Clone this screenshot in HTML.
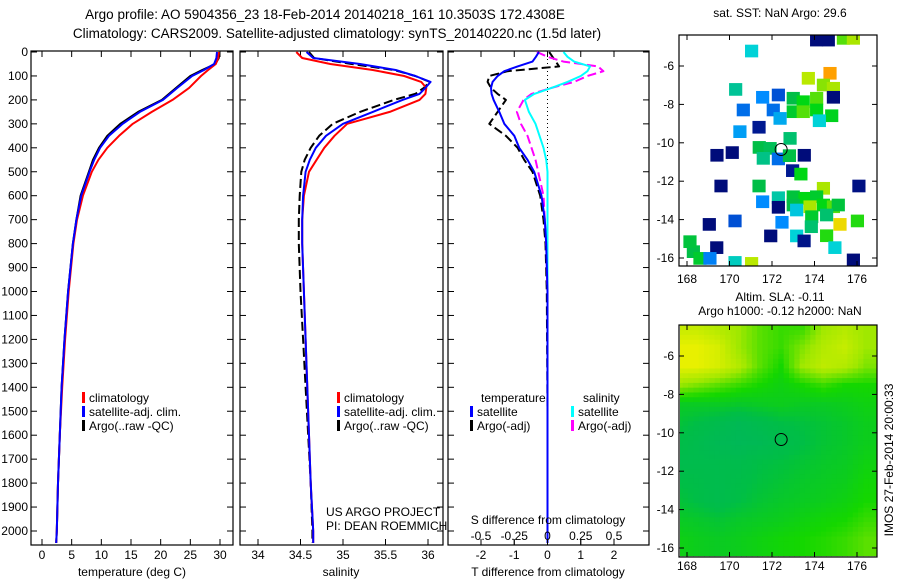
<!DOCTYPE html>
<html><head><meta charset="utf-8">
<style>
body{margin:0;background:#fff;}
svg{display:block;font-family:"Liberation Sans",sans-serif;}
</style></head>
<body>
<svg id="fig" width="900" height="580" viewBox="0 0 900 580" xmlns="http://www.w3.org/2000/svg">
<text x="325" y="19" font-size="13.5" text-anchor="middle">Argo profile: AO 5904356_23 18-Feb-2014 20140218_161 10.3503S 172.4308E</text>
<text x="337" y="38" font-size="13.5" text-anchor="middle">Climatology: CARS2009. Satellite-adjusted climatology: synTS_20140220.nc (1.5d later)</text>
<text x="780" y="17" font-size="12" text-anchor="middle">sat. SST: NaN Argo: 29.6</text>
<text x="780" y="301" font-size="12" text-anchor="middle">Altim. SLA: -0.11</text>
<text x="780" y="315" font-size="12" text-anchor="middle">Argo h1000: -0.12 h2000: NaN</text>
<text transform="translate(893,460) rotate(-90)" font-size="12" text-anchor="middle">IMOS 27-Feb-2014 20:00:33</text>
<g id="layer"></g>
</svg>
<script>
// ---------- data ----------
const depthT = [0,25,50,75,100,150,200,250,300,350,400,450,500,600,700,800,1000,1200,1400,1600,1800,2000,2050];
const tempClim = [29.8,29.7,29.3,28.0,26.8,24.8,22.0,18.5,15.3,13.0,11.0,9.5,8.4,6.9,5.9,5.3,4.5,3.9,3.4,3.0,2.7,2.5,2.4];
const tempSat  = [29.5,29.4,29.0,27.3,25.3,22.8,20.4,16.5,13.6,11.3,9.8,8.8,8.0,6.6,5.8,5.2,4.4,3.8,3.3,3.0,2.7,2.5,2.4];
const tempArgo = [29.9,29.8,29.2,27.0,25.0,22.6,20.2,16.2,13.2,11.0,9.6,8.6,7.9,6.5,5.8,5.2,4.4,3.8,3.3,3.0,2.7,2.5,2.4];
const depthS = [0,25,50,75,100,125,150,175,200,250,300,350,400,450,500,600,700,800,1000,1200,1400,1600,1800,2000,2050];
const salClim = [34.45,34.52,34.85,35.35,35.72,35.92,35.98,35.97,35.9,35.55,35.05,34.9,34.78,34.69,34.6,34.54,34.52,34.52,34.54,34.56,34.58,34.6,34.62,34.65,34.65];
const salSat  = [34.57,34.65,35.2,35.62,35.85,36.03,35.97,35.9,35.7,35.35,35.0,34.8,34.68,34.61,34.56,34.53,34.52,34.52,34.54,34.56,34.58,34.6,34.62,34.65,34.65];
const salArgo = [34.6,34.66,35.1,35.6,35.85,36.02,35.95,35.85,35.6,35.2,34.88,34.72,34.62,34.55,34.51,34.49,34.48,34.48,34.5,34.53,34.56,34.59,34.62,34.64,34.64];
const depthD = [0,20,40,60,80,100,125,150,175,200,250,300,350,400,450,500,600,700,800,1000,1500,2050];
const tDiffSat  = [-0.26,-0.35,-0.45,-0.9,-1.3,-1.5,-1.65,-1.7,-1.68,-1.62,-1.45,-1.3,-1.0,-0.85,-0.6,-0.4,-0.18,-0.08,-0.04,0,0,0];
const tDiffArgo = [0.05,0.15,0.25,0.35,-1.2,-1.75,-1.8,-1.7,-1.5,-1.25,-1.5,-1.75,-1.25,-0.9,-0.7,-0.45,-0.22,-0.12,-0.06,-0.02,0,0];
const sDiffSat  = [0.12,0.15,0.2,0.32,0.3,0.25,0.15,0.03,-0.1,-0.17,-0.14,-0.09,-0.06,-0.03,-0.01,0,0,0,0,0,0,0];
const sDiffArgo = [-0.08,0.0,0.12,0.38,0.42,0.3,0.2,0.03,-0.12,-0.18,-0.23,-0.2,-0.15,-0.12,-0.09,-0.07,-0.03,-0.02,-0.01,0,0,0];
const depthTicks = [0,100,200,300,400,500,600,700,800,900,1000,1100,1200,1300,1400,1500,1600,1700,1800,1900,2000];
const tTicks = [0,5,10,15,20,25,30];
const sTicks = [34,34.5,35,35.5,36];
const tdTicks = [-2,-1,0,1,2];
const sdTicks = [-0.5,-0.25,0,0.25,0.5];
const sdTickLabels = ["-0.5","-0.25","0","0.25","0.5"];
const sstLon = [174.10,174.65,175.36,175.83,171.04,174.73,173.71,174.42,174.89,170.29,171.56,172.30,173.00,173.47,173.00,173.47,174.10,174.10,174.89,170.65,172.06,172.38,174.81,174.23,171.39,170.49,172.85,171.40,171.91,170.13,169.41,171.59,172.30,172.82,173.52,172.97,173.36,169.60,171.39,176.09,174.42,172.30,171.56,173.00,173.55,174.10,173.00,173.79,174.42,174.89,175.12,172.30,173.16,173.87,174.57,170.26,169.05,172.47,173.85,175.20,176.02,171.94,173.16,173.51,174.57,174.96,169.40,168.30,168.14,168.61,169.08,170.26,171.04,175.83];
const sstLat = [-4.65,-4.65,-4.56,-4.56,-5.22,-6.38,-6.64,-6.99,-7.16,-7.22,-7.63,-7.51,-7.68,-7.86,-8.38,-8.38,-7.68,-8.29,-7.63,-8.29,-8.29,-8.73,-8.59,-8.85,-9.19,-9.42,-9.77,-10.24,-10.29,-10.51,-10.65,-10.81,-10.84,-10.67,-10.65,-11.45,-11.63,-12.25,-12.25,-12.25,-12.37,-12.86,-13.07,-12.81,-12.89,-12.81,-13.24,-13.33,-13.24,-13.33,-13.24,-13.36,-13.50,-13.85,-13.76,-14.07,-14.25,-14.14,-14.37,-14.25,-14.07,-14.85,-14.85,-15.11,-14.84,-15.46,-15.46,-15.67,-15.15,-16.02,-16.02,-16.23,-16.28,-16.10];
const sstVal = [0,0,0.75,0.8,0.42,0.95,0.82,0.78,0.8,0.5,0.3,0.2,0.6,0.7,0.65,0.75,0.75,0.7,0,0.25,0.25,0.35,0.68,0.42,0.05,0.33,0.55,0.6,0.58,0,0,0.52,0.25,0.6,0,0.05,0.7,0,0.6,0.02,0.8,0.48,0.3,0.62,0.7,0.65,0.6,0.8,0.7,0.75,0.62,0,0.4,0.65,0.55,0.2,0,0.3,0.55,0.9,0.72,0,0.42,0.03,0.72,0.42,0,0.6,0.62,0.65,0.28,0.45,0.82,0];
const slaRows = [
[.8,.8,.75,.7,.6,.55,.55,.7,.75,.7,.7],
[.9,.9,.85,.7,.6,.55,.65,.75,.8,.7,.7],
[.9,.9,.85,.75,.6,.5,.7,.78,.75,.65,.65],
[.7,.65,.6,.55,.5,.45,.5,.55,.5,.5,.5],
[.4,.4,.4,.38,.4,.42,.4,.4,.42,.45,.45],
[.35,.3,.25,.2,.25,.3,.32,.35,.38,.42,.42],
[.3,.25,.2,.18,.2,.25,.3,.35,.38,.42,.42],
[.25,.25,.25,.25,.3,.32,.35,.38,.4,.45,.45],
[.3,.28,.25,.28,.32,.35,.38,.4,.42,.48,.48],
[.35,.3,.25,.3,.35,.38,.4,.42,.45,.5,.5],
[.4,.38,.35,.38,.4,.42,.45,.48,.5,.55,.55],
[.45,.42,.4,.42,.45,.48,.5,.52,.55,.6,.6],
[.45,.42,.4,.42,.45,.48,.5,.52,.55,.6,.6]];
const floatLon = 172.4308, floatLat = -10.3503;
const mapLonTicks = [168,170,172,174,176];
const mapLatTicks = [-6,-8,-10,-12,-14,-16];

// ---------- helpers ----------
const NS = "http://www.w3.org/2000/svg";
const layer = document.getElementById('layer');
function el(tag, attrs, parent){const e=document.createElementNS(NS,tag);for(const k in attrs)e.setAttribute(k,attrs[k]);(parent||layer).appendChild(e);return e;}
const Y0=52, YK=0.2395, PT=51, PB=545;
const yD = d => Y0 + d*YK;
function lin(d0,d1,p0,p1){return v=>p0+(v-d0)*(p1-p0)/(d1-d0);}
const xT = lin(0,30,42,220), xS = lin(34,36,258,428), xTD = lin(-2,2,481,614), xSD = lin(-0.5,0.5,481,614);

function frame(x0,x1,name){
  const r=el('rect',{x:x0,y:PT,width:x1-x0,height:PB-PT,fill:'#fff',stroke:'#000','stroke-width':1.2});
  
  
  depthTicks.forEach(d=>{
    el('line',{x1:x0,x2:x0+6,y1:yD(d),y2:yD(d),stroke:'#000'});
    el('line',{x1:x1,x2:x1-6,y1:yD(d),y2:yD(d),stroke:'#000'});
  });
}
function xticks(ticks,labels,sc,name){
  ticks.forEach((t,i)=>{
    const x=sc(t);
    el('line',{x1:x,x2:x,y1:PB,y2:PB-6,stroke:'#000'});
    el('line',{x1:x,x2:x,y1:PT,y2:PT+6,stroke:'#000'});
    const tx=el('text',{x:x,y:559,'font-size':12,'text-anchor':'middle'});tx.textContent=labels[i];
    
    
  });
}
function series(xs,ys,sx,color,dash,name,w){
  const pts=xs.map((v,i)=>sx(v).toFixed(1)+','+yD(ys[i]).toFixed(1)).join(' ');
  const p=el('polyline',{points:pts,fill:'none',stroke:color,'stroke-width':w||2,'stroke-dasharray':dash||'none','stroke-linejoin':'round'});
  
  
}
function text(x,y,s,name,opt){const t=el('text',Object.assign({x:x,y:y,'font-size':12},opt||{}));t.textContent=s;
  
  return t;}
function legend(x,y,color,label,name){
  el('rect',{x:x,y:y-10,width:3,height:11,fill:color});
  text(x+7,y,label,name);
}

depthTicks.forEach(d=>{text(28,yD(d)+4,String(d),'y-tick-label',{'text-anchor':'end'});});

frame(31,233,'temperature-panel');
xticks(tTicks,tTicks.map(String),xT,'temperature-x');
series(tempArgo,depthT,xT,'#000','','temp-argo-line');
series(tempClim,depthT,xT,'#f00','','temp-climatology-line');
series(tempSat,depthT,xT,'#00f','','temp-satellite-line');
text(132,576,'temperature (deg C)','temperature-x-axis-title',{'text-anchor':'middle'});
legend(82,402,'#f00','climatology','legend-climatology');
legend(82,416,'#00f','satellite-adj. clim.','legend-satellite');
legend(82,430,'#000','Argo(..raw -QC)','legend-argo');

frame(240,443,'salinity-panel');
xticks(sTicks,sTicks.map(String),xS,'salinity-x');
series(salArgo,depthS,xS,'#000','9,4','sal-argo-line');
series(salClim,depthS,xS,'#f00','','sal-climatology-line');
series(salSat,depthS,xS,'#00f','','sal-satellite-line');
text(341,576,'salinity','salinity-x-axis-title',{'text-anchor':'middle'});
legend(337,402,'#f00','climatology','legend-climatology-2');
legend(337,416,'#00f','satellite-adj. clim.','legend-satellite-2');
legend(337,430,'#000','Argo(..raw -QC)','legend-argo-2');
text(326,516,'US ARGO PROJECT','project-label');
text(326,530,'PI: DEAN ROEMMICH','pi-label');

frame(448,649,'difference-panel');
xticks(tdTicks,tdTicks.map(String),xTD,'t-diff-x');
el('line',{x1:xTD(0),x2:xTD(0),y1:PT,y2:PB,stroke:'#000','stroke-dasharray':'1,3'});
series(tDiffArgo,depthD,xTD,'#000','9,4','t-diff-argo-line');
series(sDiffArgo,depthD,xSD,'#f0f','9,4','s-diff-argo-line');
series(sDiffSat,depthD,xSD,'#0ff','','s-diff-satellite-line');
series(tDiffSat,depthD,xTD,'#00f','','t-diff-satellite-line');
sdTicks.forEach((t,i)=>{const x=xSD(t);el('line',{x1:x,x2:x,y1:PB,y2:PB-5,stroke:'#000'});
  text(x,540,sdTickLabels[i],'s-diff-tick-label',{'text-anchor':'middle'});});
text(548,524,'S difference from climatology','s-diff-axis-title',{'text-anchor':'middle'});
text(548,576,'T difference from climatology','t-diff-axis-title',{'text-anchor':'middle'});
text(481,402,'temperature','legend-temperature-heading');
legend(470,416,'#00f','satellite','legend-t-satellite');
legend(470,430,'#000','Argo(-adj)','legend-t-argo');
text(583,402,'salinity','legend-salinity-heading');
legend(571,416,'#0ff','satellite','legend-s-satellite');
legend(571,430,'#f0f','Argo(-adj)','legend-s-argo');

const mLon = lin(168,176,687,857);
function mapAxes(top,bottom,mLat,name,tickY){
  const r=el('rect',{x:679,y:top,width:198,height:bottom-top,fill:'none',stroke:'#000','stroke-width':1.2});
  
  
  mapLonTicks.forEach(l=>{const x=mLon(l);el('line',{x1:x,x2:x,y1:top,y2:top+5,stroke:'#000'});el('line',{x1:x,x2:x,y1:bottom,y2:bottom-5,stroke:'#000'});
    text(x,tickY,String(l),'map-lon-tick-label',{'text-anchor':'middle'});});
  mapLatTicks.forEach(l=>{const y=mLat(l);el('line',{x1:679,x2:684,y1:y,y2:y,stroke:'#000'});el('line',{x1:877,x2:872,y1:y,y2:y,stroke:'#000'});
    text(674,y+4,String(l),'map-lat-tick-label',{'text-anchor':'end'});});
  const c=el('circle',{cx:mLon(floatLon),cy:mLat(floatLat),r:6,fill:'none',stroke:'#000','stroke-width':1});
  
  
}
function cmap(stops,v){
  for(let i=1;i<stops.length;i++){if(v<=stops[i][0]||i==stops.length-1){const a=stops[i-1],b=stops[i];const f=Math.max(0,Math.min(1,(v-a[0])/(b[0]-a[0])));
    const c=[0,1,2].map(k=>Math.round(a[1][k]+(b[1][k]-a[1][k])*f));return 'rgb('+c.join(',')+')';}}
}
const sstStops=[[0,[0,12,122]],[0.15,[0,50,190]],[0.3,[0,140,255]],[0.42,[0,210,215]],[0.5,[0,195,150]],[0.6,[0,190,70]],[0.7,[0,215,20]],[0.8,[170,230,0]],[0.88,[230,240,0]],[0.95,[255,160,0]]];
const slaStops=[[0,[0,176,112]],[0.3,[0,190,70]],[0.5,[20,215,0]],[0.7,[160,232,0]],[0.9,[232,240,0]]];

const sLat = lin(-6,-16,66,258);
const g1=el('g',{});
const cp1=el('clipPath',{id:'c1'});el('rect',{x:679,y:35,width:198,height:231},cp1);
g1.setAttribute('clip-path','url(#c1)');
sstLon.forEach((lo,i)=>{
  const w=mLon(0.62)-mLon(0), h=sLat(-0.66)-sLat(0);
  const r=el('rect',{x:mLon(lo)-w/2,y:sLat(sstLat[i])-h/2,width:w,height:h,fill:cmap(sstStops,sstVal[i])},g1);
  
  
});
mapAxes(35,266,sLat,'sst-map-frame',283);

const aLat = lin(-6,-16,356,548);
const g2=el('g',{});
const cp2=el('clipPath',{id:'c2'});el('rect',{x:680,y:325,width:197,height:232},cp2);
g2.setAttribute('clip-path','url(#c2)');
const sub=4;
for(let r=0;r<slaRows.length-1;r++){for(let c=0;c<slaRows[0].length-1;c++){
  for(let i=0;i<sub;i++)for(let j=0;j<sub;j++){
    const fy=i/sub, fx=j/sub;
    const v=slaRows[r][c]*(1-fx)*(1-fy)+slaRows[r][c+1]*fx*(1-fy)+slaRows[r+1][c]*(1-fx)*fy+slaRows[r+1][c+1]*fx*fy;
    const lo=167.3+c+fx, la=-4.4-r-fy;
    const x0=mLon(lo), y0=aLat(la);
    const cell=el('rect',{x:x0,y:y0,width:mLon(lo+1/sub)-x0+0.5,height:aLat(la-1/sub)-y0+0.5,fill:cmap(slaStops,v)},g2);
    
    
  }}}
mapAxes(325,557,aLat,'sla-map-frame',570);
</script>
</body></html>
